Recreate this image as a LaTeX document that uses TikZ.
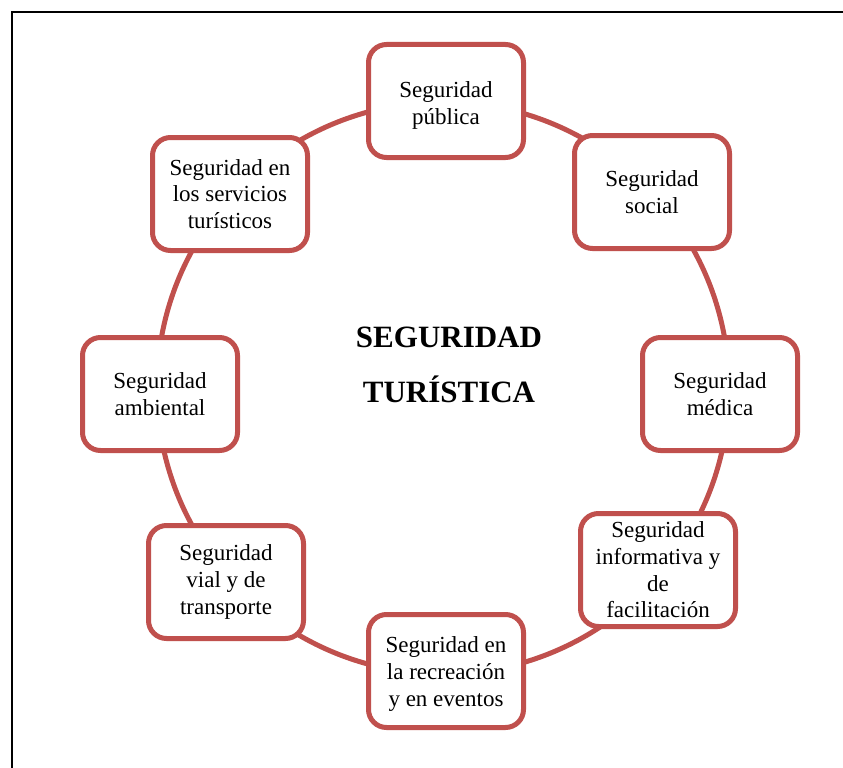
\documentclass[tikz,border=0pt]{standalone}
\usepackage{fontspec}
\setmainfont{Liberation Serif}
\definecolor{accred}{HTML}{C0504D}
\tikzset{
  segbox/.style={draw=accred, fill=white, line width=5pt, rounded corners=18pt,
    minimum width=155pt, minimum height=113pt, inner sep=0pt, align=center,
    font=\fontsize{23}{26.7}\selectfont},
  titletext/.style={anchor=base, inner sep=0pt, font=\fontsize{31}{36}\selectfont\bfseries},
  ring/.style={draw=accred, line width=5pt}
}
\begin{document}
\begin{tikzpicture}[x=1pt,y=-1pt]
\useasboundingbox (0,0) rectangle (843,768);
\fill[white] (0,0) rectangle (843,768);
\draw[line width=2.2pt, line cap=rect] (12,768) -- (12,12) -- (843,12);
\coordinate (c) at (443,388);
\draw[ring] (c) circle[radius=286pt];
\node[segbox] (publica) at (446,101) {\rule{0pt}{25pt}Seguridad\\pública};
\node[segbox] (social) at (652,192) {Seguridad\\social};
\node[segbox] (medica) at (720,394) {Seguridad\\médica};
\node[segbox] (informativa) at (658,570) {Seguridad\\informativa y\\de\\facilitación};
\node[segbox] (recreacion) at (446,671) {\rule{0pt}{22pt}Seguridad en\\la recreación\\y en eventos};
\node[segbox] (vial) at (226,582) {Seguridad\\vial y de\\transporte};
\node[segbox] (ambiental) at (160,394) {Seguridad\\ambiental};
\node[segbox] (servicios) at (230,194) {Seguridad en\\los servicios\\turísticos};
\node[titletext] (title1) at (449,347) {SEGURIDAD};
\node[titletext] (title2) at (449,402) {TURÍSTICA};
\end{tikzpicture}
\end{document}
